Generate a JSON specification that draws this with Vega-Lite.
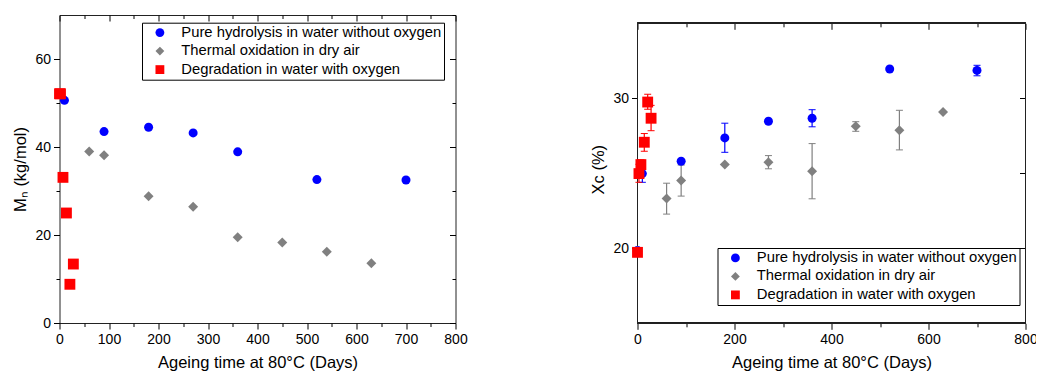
{
"$schema": "https://vega.github.io/schema/vega-lite/v6.json",
"padding": {"left": 11.5, "top": 14, "right": -2, "bottom": 0},
"spacing": 122,
"datasets": {
"mn": [
{"s":"Pure hydrolysis in water without oxygen","day":0,"mn":52.1},
{"s":"Pure hydrolysis in water without oxygen","day":10,"mn":50.6},
{"s":"Pure hydrolysis in water without oxygen","day":90,"mn":43.5},
{"s":"Pure hydrolysis in water without oxygen","day":180,"mn":44.5},
{"s":"Pure hydrolysis in water without oxygen","day":270,"mn":43.2},
{"s":"Pure hydrolysis in water without oxygen","day":360,"mn":38.9},
{"s":"Pure hydrolysis in water without oxygen","day":520,"mn":32.6},
{"s":"Pure hydrolysis in water without oxygen","day":700,"mn":32.5},
{"s":"Thermal oxidation in dry air","day":0,"mn":52.1},
{"s":"Thermal oxidation in dry air","day":60,"mn":39.0},
{"s":"Thermal oxidation in dry air","day":90,"mn":38.1},
{"s":"Thermal oxidation in dry air","day":180,"mn":28.8},
{"s":"Thermal oxidation in dry air","day":270,"mn":26.4},
{"s":"Thermal oxidation in dry air","day":360,"mn":19.5},
{"s":"Thermal oxidation in dry air","day":450,"mn":18.3},
{"s":"Thermal oxidation in dry air","day":540,"mn":16.2},
{"s":"Thermal oxidation in dry air","day":630,"mn":13.6},
{"s":"Degradation in water with oxygen","day":0,"mn":52.1},
{"s":"Degradation in water with oxygen","day":2,"mn":52.1},
{"s":"Degradation in water with oxygen","day":7,"mn":33.1},
{"s":"Degradation in water with oxygen","day":14,"mn":25.0},
{"s":"Degradation in water with oxygen","day":21,"mn":8.8},
{"s":"Degradation in water with oxygen","day":28,"mn":13.4}
],
"xc": [
{"s":"Pure hydrolysis in water without oxygen","day":0,"xc":19.85},
{"s":"Pure hydrolysis in water without oxygen","day":10,"xc":24.98,"lo":24.4,"hi":25.6},
{"s":"Pure hydrolysis in water without oxygen","day":90,"xc":25.8},
{"s":"Pure hydrolysis in water without oxygen","day":180,"xc":27.36,"lo":26.4,"hi":28.34},
{"s":"Pure hydrolysis in water without oxygen","day":270,"xc":28.47},
{"s":"Pure hydrolysis in water without oxygen","day":360,"xc":28.67,"lo":28.1,"hi":29.24},
{"s":"Pure hydrolysis in water without oxygen","day":520,"xc":31.95},
{"s":"Pure hydrolysis in water without oxygen","day":700,"xc":31.86,"lo":31.5,"hi":32.2},
{"s":"Thermal oxidation in dry air","day":0,"xc":19.8},
{"s":"Thermal oxidation in dry air","day":60,"xc":23.32,"lo":22.28,"hi":24.34},
{"s":"Thermal oxidation in dry air","day":90,"xc":24.52,"lo":23.48,"hi":25.55},
{"s":"Thermal oxidation in dry air","day":180,"xc":25.58},
{"s":"Thermal oxidation in dry air","day":270,"xc":25.74,"lo":25.3,"hi":26.18},
{"s":"Thermal oxidation in dry air","day":360,"xc":25.14,"lo":23.3,"hi":26.98},
{"s":"Thermal oxidation in dry air","day":450,"xc":28.14,"lo":27.8,"hi":28.44},
{"s":"Thermal oxidation in dry air","day":540,"xc":27.87,"lo":26.56,"hi":29.2},
{"s":"Thermal oxidation in dry air","day":630,"xc":29.09},
{"s":"Degradation in water with oxygen","day":0,"xc":19.73},
{"s":"Degradation in water with oxygen","day":3,"xc":24.98,"lo":24.4,"hi":25.6},
{"s":"Degradation in water with oxygen","day":7,"xc":25.58,"lo":25.2,"hi":25.9},
{"s":"Degradation in water with oxygen","day":14,"xc":27.07,"lo":26.47,"hi":27.65},
{"s":"Degradation in water with oxygen","day":21,"xc":29.75,"lo":29.27,"hi":30.27},
{"s":"Degradation in water with oxygen","day":28,"xc":28.67,"lo":27.84,"hi":29.53}
]
},
"hconcat": [
{
"width": 396, "height": 308,
"data": {"name": "mn"},
"layer": [
{
"mark": {"type": "point", "filled": true, "opacity": 1},
"encoding": {
"x": {"field": "day", "type": "quantitative", "scale": {"domain": [0, 800], "nice": false, "zero": false},
"axis": {"orient": "bottom", "values": [0,50,100,150,200,250,300,350,400,450,500,550,600,650,700,750,800], "labelExpr": "datum.value % 100 === 0 ? datum.label : ''", "tickSize": {"condition": {"test": "datum.value % 100 === 0", "value": 6}, "value": 3.5}, "title": "Ageing time at 80°C (Days)", "titlePadding": 8}},
"y": {"field": "mn", "type": "quantitative", "scale": {"domain": [0, 70], "nice": false},
"axis": {"orient": "left", "values": [0,10,20,30,40,50,60], "labelExpr": "datum.value % 20 === 0 ? datum.label : ''", "tickSize": {"condition": {"test": "datum.value % 20 === 0", "value": 6}, "value": 3.5}, "title": "Mₙ (kg/mol)", "titlePadding": 6}},
"color": {"field": "s", "type": "nominal", "scale": {"domain": ["Pure hydrolysis in water without oxygen","Thermal oxidation in dry air","Degradation in water with oxygen"], "range": ["#0000ff","#808080","#ff0000"]},
"legend": {"orient": "none", "legendX": 82.5, "legendY": 7.7, "title": null, "strokeColor": "#000", "fillColor": "#fff", "padding": 2.5, "labelFontSize": 14.8, "labelLimit": 0, "labelColor": "#000", "symbolSize": 78, "symbolOpacity": 1, "symbolStrokeWidth": 0, "rowPadding": 2.5, "labelOffset": 14, "symbolOffset": 8}},
"shape": {"field": "s", "type": "nominal", "scale": {"domain": ["Pure hydrolysis in water without oxygen","Thermal oxidation in dry air","Degradation in water with oxygen"], "range": ["circle","diamond","square"]},
"legend": {"orient": "none", "legendX": 82.5, "legendY": 7.7, "title": null, "strokeColor": "#000", "fillColor": "#fff", "padding": 2.5, "labelFontSize": 14.8, "labelLimit": 0, "labelColor": "#000", "symbolSize": 78, "symbolOpacity": 1, "symbolStrokeWidth": 0, "rowPadding": 2.5, "labelOffset": 14, "symbolOffset": 8}},
"size": {"field": "s", "type": "nominal", "scale": {"domain": ["Pure hydrolysis in water without oxygen","Thermal oxidation in dry air","Degradation in water with oxygen"], "range": [81, 118, 52]}, "legend": null}
}
},
{
"mark": {"type": "point", "opacity": 0},
"encoding": {
"x": {"field": "day", "type": "quantitative", "scale": {"domain": [0, 800], "nice": false, "zero": false},
"axis": {"orient": "top", "values": [0,50,100,150,200,250,300,350,400,450,500,550,600,650,700,750,800], "labels": false, "tickSize": {"condition": {"test": "datum.value % 100 === 0", "value": -6}, "value": -3.5}, "title": null}},
"y": {"field": "mn", "type": "quantitative", "scale": {"domain": [0, 70], "nice": false},
"axis": {"orient": "right", "values": [0,10,20,30,40,50,60,70], "labels": false, "tickSize": {"condition": {"test": "datum.value % 20 === 0", "value": -6}, "value": -3.5}, "title": null}}
}
}
],
"resolve": {"axis": {"x": "independent", "y": "independent"}}
},
{
"width": 388, "height": 308.3,
"view": {"stroke": null},
"data": {"name": "xc"},
"layer": [
{
"mark": {"type": "rect", "fillOpacity": 0, "stroke": "#222", "strokeWidth": 1},
"encoding": {
"x": {"datum": 0, "type": "quantitative", "scale": {"domain": [0, 800], "nice": false, "zero": false}, "axis": null},
"x2": {"datum": 800},
"y": {"datum": 15, "type": "quantitative", "scale": {"domain": [15, 35.553], "nice": false, "zero": false}, "axis": null},
"y2": {"datum": 35}
}
},
{
"transform": [{"filter": "isValid(datum.lo)"}],
"mark": {"type": "errorbar", "opacity": 1, "ticks": {"size": 7}, "rule": {"strokeWidth": 1.2}},
"encoding": {
"x": {"field": "day", "type": "quantitative", "scale": {"domain": [0, 800], "nice": false, "zero": false}, "axis": null},
"y": {"field": "lo", "type": "quantitative", "scale": {"domain": [15, 35.553], "nice": false, "zero": false}, "axis": null},
"y2": {"field": "hi"},
"color": {"field": "s", "type": "nominal"}
}
},
{
"mark": {"type": "point", "filled": true, "opacity": 1},
"encoding": {
"x": {"field": "day", "type": "quantitative", "scale": {"domain": [0, 800], "nice": false, "zero": false},
"axis": {"orient": "bottom", "values": [0,100,200,300,400,500,600,700,800], "labelExpr": "datum.value % 200 === 0 ? datum.label : ''", "tickSize": {"condition": {"test": "datum.value % 200 === 0", "value": 6}, "value": 3.5}, "title": "Ageing time at 80°C (Days)", "titlePadding": 8.5}},
"y": {"field": "xc", "type": "quantitative", "scale": {"domain": [15, 35.553], "nice": false, "zero": false},
"axis": {"orient": "left", "values": [20,25,30], "labelExpr": "datum.value % 10 === 0 ? datum.label : ''", "tickSize": {"condition": {"test": "datum.value % 10 === 0", "value": 6}, "value": 4}, "title": "Xc (%)", "titlePadding": 6}},
"color": {"field": "s", "type": "nominal", "scale": {"domain": ["Pure hydrolysis in water without oxygen","Thermal oxidation in dry air","Degradation in water with oxygen"], "range": ["#0000ff","#808080","#ff0000"]},
"legend": {"orient": "none", "legendX": 80, "legendY": 233, "title": null, "strokeColor": "#000", "fillColor": "#fff", "padding": 2.5, "labelFontSize": 14.8, "labelLimit": 0, "labelColor": "#000", "symbolSize": 78, "symbolOpacity": 1, "symbolStrokeWidth": 0, "rowPadding": 2.5, "labelOffset": 14, "symbolOffset": 8}},
"shape": {"field": "s", "type": "nominal", "scale": {"domain": ["Pure hydrolysis in water without oxygen","Thermal oxidation in dry air","Degradation in water with oxygen"], "range": ["circle","diamond","square"]},
"legend": {"orient": "none", "legendX": 80, "legendY": 233, "title": null, "strokeColor": "#000", "fillColor": "#fff", "padding": 2.5, "labelFontSize": 14.8, "labelLimit": 0, "labelColor": "#000", "symbolSize": 78, "symbolOpacity": 1, "symbolStrokeWidth": 0, "rowPadding": 2.5, "labelOffset": 14, "symbolOffset": 8}},
"size": {"field": "s", "type": "nominal", "scale": {"domain": ["Pure hydrolysis in water without oxygen","Thermal oxidation in dry air","Degradation in water with oxygen"], "range": [81, 118, 52]}, "legend": null}
}
},
{
"mark": {"type": "point", "opacity": 0},
"encoding": {
"x": {"field": "day", "type": "quantitative", "scale": {"domain": [0, 800], "nice": false, "zero": false},
"axis": {"orient": "top", "offset": -8.3, "values": [0,100,200,300,400,500,600,700,800], "labels": false, "tickSize": {"condition": {"test": "datum.value % 200 === 0", "value": -6}, "value": -3.5}, "title": null}},
"y": {"field": "xc", "type": "quantitative", "scale": {"domain": [15, 35.553], "nice": false, "zero": false},
"axis": {"orient": "right", "values": [20,25,30], "labels": false, "tickSize": -6, "title": null}}
}
}
],
"resolve": {"axis": {"x": "independent", "y": "independent"}}
}
],
"resolve": {"legend": {"color": "independent", "shape": "independent"}},
"config": {
"font": "Liberation Sans",
"view": {"stroke": "#222", "strokeWidth": 1},
"title": {"font": "Liberation Sans"},
"axis": {"grid": false, "domain": false, "tickColor": "#000", "tickWidth": 1, "labelFont": "Liberation Sans", "labelFontSize": 14, "labelColor": "#000", "titleFont": "Liberation Sans", "titleFontSize": 16.5, "titleFontWeight": "normal", "titleColor": "#000", "labelPadding": 3, "labelOverlap": false, "labelFlush": false},
"legend": {"labelFont": "Liberation Sans"}
}
}
